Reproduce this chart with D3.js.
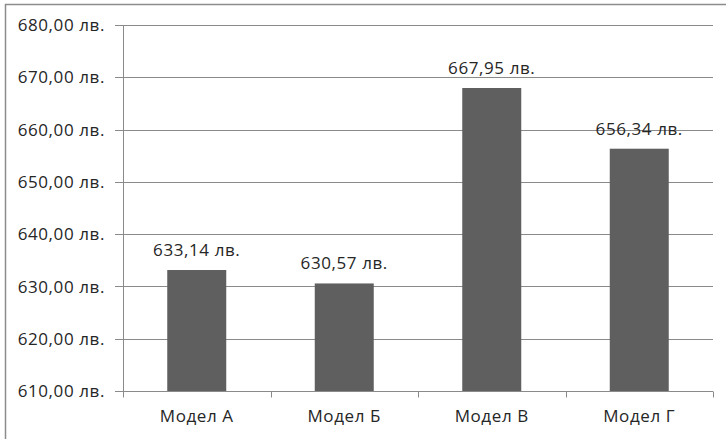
<!DOCTYPE html>
<html><head><meta charset="utf-8">
<script src="https://cdn.jsdelivr.net/npm/d3@7"></script>
<style>
html,body{margin:0;padding:0;background:#fff;}
svg{display:block;font-family:"Open Sans",sans-serif;}
</style></head>
<body>
<svg id="chart" width="726" height="439"></svg>
<script>
const categories = ["Модел А", "Модел Б", "Модел В", "Модел Г"];
const values = [633.14, 630.57, 667.95, 656.34];
const yTicks = [610, 620, 630, 640, 650, 660, 670, 680];

const fmt = v => v.toFixed(2).replace(".", ",") + " лв.";

const W = 726, H = 439;
const m = {left: 123, right: 13, top: 25, bottom: 48};
const FS = 17, LS = 0.6;
const svg = d3.select("#chart");

// outer border (left and top visible)
svg.append("path").attr("d", `M5.5,${H} L5.5,4.5 L${W},4.5`)
  .attr("fill", "none").attr("stroke", "#8c8c8c").attr("stroke-width", 1.5);

const xb = d3.scaleBand().domain(categories).range([m.left, W - m.right]);
const y = d3.scaleLinear().domain([610, 680]).range([H - m.bottom, m.top]);

// gridlines
svg.append("g").selectAll("line").data(yTicks).join("line")
  .attr("x1", m.left - 8).attr("x2", W - m.right)
  .attr("y1", d => Math.round(y(d)) + 0.5).attr("y2", d => Math.round(y(d)) + 0.5)
  .attr("stroke", "#8a8a8a").attr("stroke-width", 1);

// y axis labels
svg.append("g").selectAll("text").data(yTicks).join("text")
  .attr("x", 105).attr("y", d => y(d)).attr("dy", "0.36em")
  .attr("text-anchor", "end").attr("font-size", FS).attr("letter-spacing", LS).attr("fill", "#262626")
  .text(fmt);

// y axis line
svg.append("line").attr("x1", m.left + 0.5).attr("x2", m.left + 0.5)
  .attr("y1", m.top).attr("y2", H - m.bottom)
  .attr("stroke", "#8a8a8a");

// bars
svg.append("g").selectAll("rect").data(values).join("rect")
  .attr("x", (d, i) => xb(categories[i]) + xb.bandwidth() * 0.3)
  .attr("width", xb.bandwidth() * 0.4)
  .attr("y", d => y(d))
  .attr("height", d => y(610) - y(d))
  .attr("fill", "#5f5f5f");

// x axis
const xAxisY = Math.round(y(610)) + 0.5;
svg.append("line").attr("x1", m.left).attr("x2", W - m.right)
  .attr("y1", xAxisY).attr("y2", xAxisY).attr("stroke", "#8a8a8a");
const bounds = categories.map(c => xb(c)).concat([xb(categories[categories.length - 1]) + xb.bandwidth()]);
svg.append("g").selectAll("line").data(bounds).join("line")
  .attr("x1", d => Math.round(d) + 0.5).attr("x2", d => Math.round(d) + 0.5)
  .attr("y1", xAxisY).attr("y2", xAxisY + 6).attr("stroke", "#8a8a8a");

// category labels
svg.append("g").selectAll("text").data(categories).join("text")
  .attr("x", d => xb(d) + xb.bandwidth() / 2).attr("y", 422)
  .attr("text-anchor", "middle").attr("font-size", FS).attr("letter-spacing", LS).attr("fill", "#262626")
  .text(d => d);

// data labels
svg.append("g").selectAll("text").data(values).join("text")
  .attr("x", (d, i) => xb(categories[i]) + xb.bandwidth() / 2)
  .attr("y", d => y(d) - 14)
  .attr("text-anchor", "middle").attr("font-size", FS).attr("letter-spacing", LS).attr("fill", "#262626")
  .text(fmt);
</script>
</body></html>
